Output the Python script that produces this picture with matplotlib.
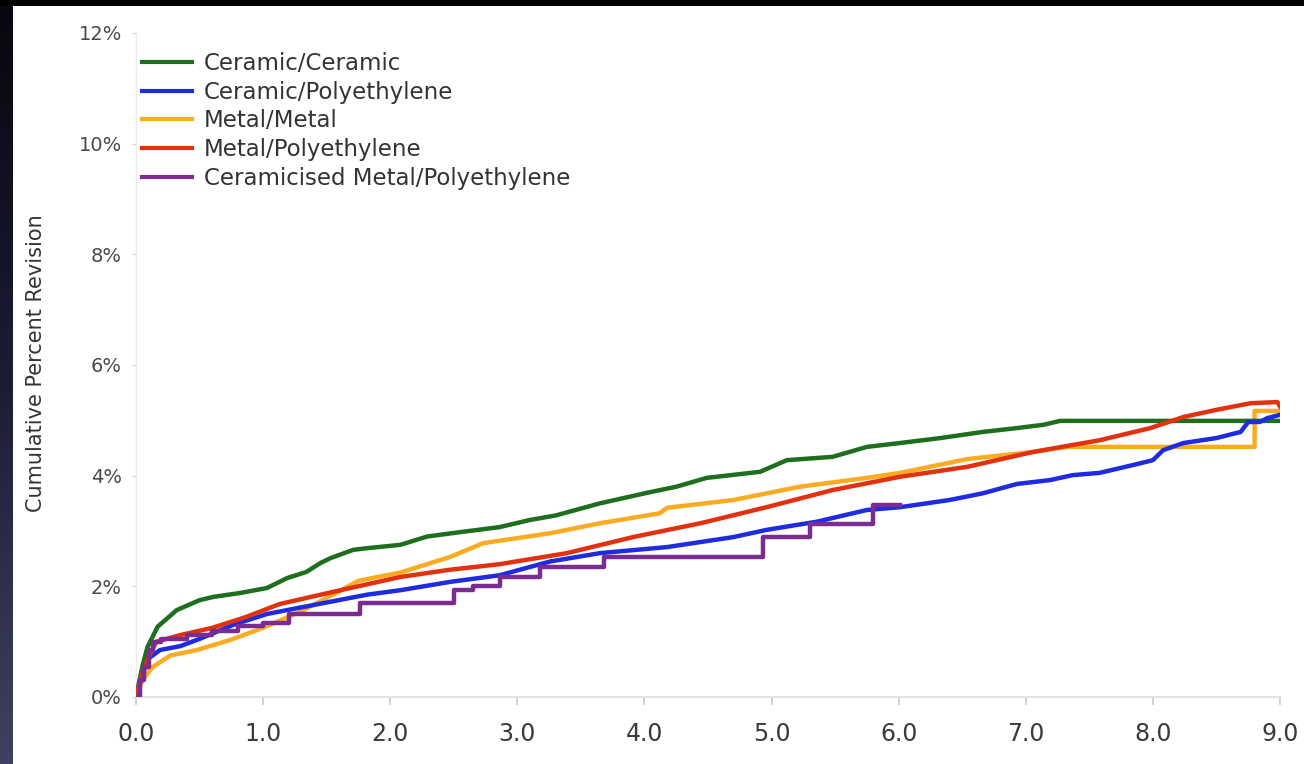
import numpy as np
import matplotlib
matplotlib.use("Agg")
import matplotlib.pyplot as plt
from matplotlib.colors import LinearSegmentedColormap

# ---- data ----
series_names = ["Ceramic/Ceramic", "Ceramic/Polyethylene", "Metal/Metal",
                "Metal/Polyethylene", "Ceramicised Metal/Polyethylene"]

green_x = [0, 0.05, 0.09, 0.17, 0.32, 0.5, 0.61, 0.82, 1.03, 1.19, 1.34, 1.45, 1.53, 1.71, 1.82, 2.08,
           2.29, 2.55, 2.86, 3.1, 3.3, 3.65, 4.04, 4.25, 4.49, 4.91, 5.12, 5.48, 5.75, 6.01, 6.33, 6.66,
           6.93, 7.14, 7.27, 9.0]
green_y = [0, 0.55, 0.9, 1.27, 1.57, 1.75, 1.81, 1.88, 1.97, 2.15, 2.26, 2.42, 2.51, 2.66, 2.69, 2.75,
           2.9, 2.98, 3.07, 3.2, 3.28, 3.5, 3.7, 3.8, 3.96, 4.07, 4.28, 4.34, 4.52, 4.59, 4.68, 4.79,
           4.86, 4.92, 4.99, 4.99]

blue_x = [0, 0.05, 0.1, 0.19, 0.35, 0.5, 0.76, 1.03, 1.3, 1.82, 2.08, 2.47, 2.86, 3.26, 3.65, 4.18,
          4.7, 4.96, 5.36, 5.75, 6.01, 6.4, 6.66, 6.93, 7.19, 7.37, 7.58, 7.84, 8.0, 8.08, 8.24, 8.5,
          8.69, 8.75, 8.84, 8.9, 9.0]
blue_y = [0, 0.4, 0.7, 0.85, 0.92, 1.05, 1.3, 1.5, 1.62, 1.85, 1.93, 2.08, 2.2, 2.45, 2.6, 2.71,
          2.89, 3.02, 3.17, 3.38, 3.43, 3.56, 3.68, 3.85, 3.92, 4.01, 4.05, 4.19, 4.28, 4.46, 4.59, 4.68,
          4.79, 4.97, 4.97, 5.04, 5.1]

yellow_x = [0, 0.05, 0.13, 0.27, 0.48, 0.74, 1.0, 1.3, 1.55, 1.75, 2.08, 2.47, 2.73, 3.26, 3.65, 4.12,
            4.18, 4.7, 5.22, 5.75, 6.01, 6.54, 7.06, 7.32, 8.8, 8.8, 9.0]
yellow_y = [0, 0.3, 0.54, 0.75, 0.85, 1.03, 1.25, 1.55, 1.85, 2.1, 2.25, 2.53, 2.78, 2.96, 3.14, 3.32,
            3.42, 3.56, 3.8, 3.96, 4.05, 4.3, 4.43, 4.52, 4.52, 5.17, 5.17]

red_x = [0, 0.04, 0.09, 0.16, 0.35, 0.6, 0.87, 1.13, 1.55, 2.08, 2.47, 2.86, 3.39, 3.91, 4.44, 4.96,
         5.48, 6.01, 6.54, 7.06, 7.58, 7.98, 8.24, 8.5, 8.77, 8.98, 9.0]
red_y = [0, 0.35, 0.67, 1.0, 1.12, 1.25, 1.45, 1.68, 1.9, 2.17, 2.3, 2.4, 2.6, 2.89, 3.14, 3.43,
         3.74, 3.98, 4.16, 4.43, 4.64, 4.86, 5.06, 5.19, 5.31, 5.33, 5.25]

purple_x = [0, 0.03, 0.06, 0.1, 0.13, 0.2, 0.4, 0.6, 0.8, 1.0, 1.2, 1.76, 2.5, 2.65, 2.86, 3.18,
            3.68, 4.93, 5.3, 5.8, 6.01]
purple_y = [0, 0.3, 0.55, 0.85, 1.0, 1.05, 1.12, 1.2, 1.28, 1.33, 1.5, 1.7, 1.93, 2.0, 2.17, 2.35,
            2.53, 2.89, 3.12, 3.47, 3.47]

x_ticks = [0, 1, 2, 3, 4, 5, 6, 7, 8, 9]
x_tick_labels = ["0.0", "1.0", "2.0", "3.0", "4.0", "5.0", "6.0", "7.0", "8.0", "9.0"]
y_ticks = [0, 2, 4, 6, 8, 10, 12]
y_tick_labels = ["0%", "2%", "4%", "6%", "8%", "10%", "12%"]
y_label = "Cumulative Percent Revision"

colors = ["#1e6e1e", "#1f2be0", "#fbab22", "#e3300f", "#7b2c91"]

W, H = 1304, 764
fig = plt.figure(figsize=(W / 100, H / 100), dpi=100)
fig.patch.set_facecolor("white")

# dark slide frame: left strip gradient and top strip
bg_left = fig.add_axes([0, 0, 13 / W, 1])
grad = np.linspace(0, 1, 256).reshape(-1, 1)
cm = LinearSegmentedColormap.from_list("frame", ["#07070f", "#1c1c36", "#3e4260"])
bg_left.imshow(grad, aspect="auto", cmap=cm, extent=[0, 1, 0, 1], origin="upper")
bg_left.set_axis_off()
bg_top = fig.add_axes([0, 1 - 6 / H, 1, 6 / H])
bg_top.set_facecolor("black")
bg_top.set_xticks([]); bg_top.set_yticks([])
for s in bg_top.spines.values():
    s.set_visible(False)

left, right, bottom, top = 136, 1280, 697, 33
ax = fig.add_axes([left / W, 1 - bottom / H, (right - left) / W, (bottom - top) / H])
ax.set_facecolor("white")

lw = 3.2
ax.plot(yellow_x, yellow_y, color=colors[2], lw=lw, zorder=2, label=series_names[2])
ax.plot(green_x, green_y, color=colors[0], lw=lw, zorder=3, label=series_names[0])
ax.plot(blue_x, blue_y, color=colors[1], lw=lw, zorder=4, label=series_names[1])
ax.plot(red_x, red_y, color=colors[3], lw=lw, zorder=5, label=series_names[3])
ax.plot(purple_x, purple_y, color=colors[4], lw=lw, zorder=6, drawstyle="steps-post",
        label=series_names[4])

ax.set_xlim(0, 9)
ax.set_ylim(0, 12)
ax.set_xticks(x_ticks)
ax.set_xticklabels(x_tick_labels)
ax.set_yticks(y_ticks)
ax.set_yticklabels(y_tick_labels)

for side in ["top", "right"]:
    ax.spines[side].set_visible(False)
ax.spines["bottom"].set_color("#dedede")
ax.spines["left"].set_color("#ececec")
ax.spines["bottom"].set_linewidth(1.2)
ax.spines["left"].set_linewidth(1.0)

ax.tick_params(axis="x", length=6, width=1.2, color="#c8c8c8", pad=12,
               labelsize=17, labelcolor="#3a3a3a")
ax.tick_params(axis="y", length=3, width=1.0, color="#d8d8d8", pad=7,
               labelsize=14, labelcolor="#4a4a4a")

ax.set_ylabel(y_label, fontsize=15, color="#333333")
ax.yaxis.set_label_coords((46 - left) / (right - left), 0.503)

handles, labels = ax.get_legend_handles_labels()
order = [labels.index(n) for n in series_names]
leg = fig.legend([handles[i] for i in order], [labels[i] for i in order],
                 loc="upper left", bbox_to_anchor=(142 / W, 1 - 52 / H),
                 frameon=False, fontsize=16.5, handlelength=2.2, handletextpad=0.5,
                 labelspacing=0.25, borderpad=0, borderaxespad=0)
for t in leg.get_texts():
    t.set_color("#333333")
for l in leg.get_lines():
    l.set_linewidth(3.0)

fig.savefig("out.png", dpi=100, facecolor=fig.get_facecolor())
